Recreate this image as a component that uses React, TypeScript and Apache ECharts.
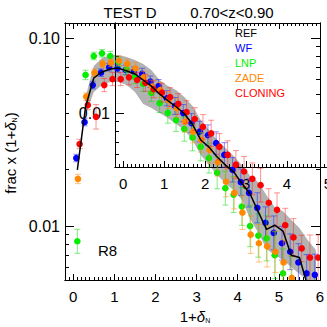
import React, { useEffect, useRef } from "react";
import * as echarts from "echarts";

// ---------- data ----------
const binCenters = [0.1, 0.3, 0.5, 0.7, 0.9, 1.1, 1.3, 1.5, 1.7, 1.9, 2.1, 2.3, 2.5, 2.7, 2.9, 3.1, 3.3, 3.5, 3.7, 3.9, 4.1, 4.3, 4.5, 4.7, 4.9, 5.1, 5.3, 5.5, 5.7, 5.9];

const refValues = [0.0199, 0.043, 0.0613, 0.066, 0.0684, 0.0692, 0.0668, 0.0644, 0.0598, 0.0555, 0.0504, 0.0465, 0.0431, 0.0397, 0.0347, 0.0287, 0.0263, 0.0233, 0.0211, 0.0194, 0.0169, 0.0148, 0.0119, 0.0096, 0.0101, 0.0094, 0.007, 0.0068, 0.0048, null];

const bandX = [0.3, 0.5, 0.7, 0.9, 1.1, 1.3, 1.5, 1.7, 1.9, 2.1, 2.3, 2.5, 2.7, 2.9, 3.1, 3.3, 3.5, 3.7, 3.9, 4.1, 4.3, 4.5, 4.7, 4.9, 5.1, 5.3, 5.5, 5.7, 5.9];
const bandLower = [0.0389, 0.0516, 0.0562, 0.0583, 0.0583, 0.0562, 0.0516, 0.0446, 0.0425, 0.0399, 0.0375, 0.0349, 0.0324, 0.0287, 0.0239, 0.0211, 0.0187, 0.0169, 0.0155, 0.0138, 0.0109, 0.0092, 0.00755, 0.00701, 0.00659, 0.00605, 0.00556, 0.0045, 0.0042];
const bandUpper = [0.0485, 0.071, 0.0783, 0.0812, 0.0812, 0.0793, 0.0764, 0.0728, 0.0676, 0.0598, 0.0556, 0.0529, 0.0485, 0.0435, 0.0366, 0.0324, 0.0287, 0.026, 0.0236, 0.0211, 0.0185, 0.0171, 0.0146, 0.0126, 0.012, 0.0108, 0.00975, 0.00843, 0.00745];

const wfValues = [0.023, 0.0357, 0.0562, 0.0654, 0.0699, 0.069, 0.0676, 0.0662, 0.0644, 0.0586, 0.0555, 0.0478, 0.0435, 0.0399, 0.0353, 0.0318, 0.0304, 0.0276, 0.0239, 0.0199, 0.0171, 0.015, 0.0125, 0.0104, 0.0092, 0.0081, 0.0073, 0.0064, 0.0056, 0.0055];
const wfErrDex = [0.02, 0.02, 0.02, 0.02, 0.02, 0.02, 0.025, 0.025, 0.03, 0.03, 0.035, 0.04, 0.045, 0.045, 0.05, 0.055, 0.055, 0.06, 0.065, 0.065, 0.07, 0.075, 0.08, 0.085, 0.09, 0.09, 0.095, 0.1, 0.1, 0.11];

const lnpValues = [0.0083, 0.0636, 0.0802, 0.0829, 0.0802, 0.0748, 0.068, 0.062, 0.057, 0.051, 0.045, 0.04, 0.0366, 0.0328, 0.0295, 0.0264, 0.023, 0.0192, 0.0159, 0.0147, 0.0127, 0.01, 0.0089, 0.0086, 0.007, 0.0056, 0.005, null, null, null];
const lnpErrDex = [0.064, 0.025, 0.02, 0.02, 0.025, 0.025, 0.03, 0.035, 0.04, 0.045, 0.05, 0.055, 0.06, 0.065, 0.07, 0.075, 0.08, 0.085, 0.09, 0.095, 0.1, 0.11, 0.115, 0.12, 0.125, 0.13, 0.14, 0, 0, 0];

const zadeValues = [0.0178, 0.0488, 0.0654, 0.0728, 0.0739, 0.0757, 0.0728, 0.069, 0.062, 0.0551, 0.0529, 0.0468, 0.0424, 0.0359, 0.0318, 0.0287, 0.0254, 0.0219, 0.0172, 0.015, 0.0118, 0.009, 0.0081, 0.0078, 0.0073, 0.0064, 0.0053, null, null, null];
const zadeErrDex = [0.025, 0.02, 0.02, 0.02, 0.02, 0.025, 0.025, 0.03, 0.03, 0.035, 0.04, 0.045, 0.05, 0.055, 0.06, 0.065, 0.07, 0.075, 0.08, 0.085, 0.09, 0.1, 0.1, 0.11, 0.11, 0.12, 0.12, 0, 0, 0];

const cloningValues = [0.0273, 0.044, 0.0381, 0.0562, 0.0605, 0.0605, 0.0618, 0.0598, 0.0578, 0.0534, 0.0512, 0.0485, 0.0446, 0.0404, 0.0371, 0.0337, 0.0311, 0.0264, 0.0239, 0.0212, 0.0195, 0.0178, 0.0165, 0.0133, 0.0122, 0.0101, 0.0087, 0.0076, 0.0068, 0.0068];
const cloningErrDex = [0.025, 0.025, 0.065, 0.035, 0.035, 0.035, 0.04, 0.04, 0.045, 0.045, 0.05, 0.05, 0.055, 0.06, 0.06, 0.065, 0.07, 0.07, 0.075, 0.075, 0.08, 0.085, 0.09, 0.075, 0.09, 0.09, 0.1, 0.07, 0.12, 0.12];

const xTickLabels = [0, 1, 2, 3, 4, 5, 6];
const insetXTickLabels = [0, 1, 2, 3, 4, 5];
const yMajorTicks = [0.01, 0.1];
const yMinorTicks = [0.006, 0.007, 0.008, 0.009, 0.02, 0.03, 0.04, 0.05, 0.06, 0.07, 0.08, 0.09];
const insetYMajorTicks = [0.01];
const insetYMinorTicks = [0.006, 0.007, 0.008, 0.009, 0.02, 0.03];
const legendNames = ["REF", "WF", "LNP", "ZADE", "CLONING"];

// ---------- layout / style ----------
const X_MIN = -0.2;
const X_MAX = 6;
const INSET_X_MAX = 5;
const Y_MIN = 0.005164;
const Y_MAX = 0.1202;
const INSET_Y_MAX = 0.03012;
const FONT = "'Liberation Sans', Arial, Helvetica, sans-serif";

const minorXTicks: number[] = [];
for (let k = -1; k <= 59; k++) if (k % 10 !== 0) minorXTicks.push(k / 10);

const legendColors = ["#000000", "#0000ff", "#00ee00", "#ff8800", "#ff0000"];

function xAx(gridIndex: number, position: string, max: number, ticks: number[], len: number, labels: number[] | null, z = 0) {
  return {
    type: "value", gridIndex, position, min: X_MIN, max, z,
    axisLine: { show: true, onZero: false, lineStyle: { color: "#000", width: 1 } },
    axisTick: { show: true, inside: true, length: len, customValues: ticks, lineStyle: { color: "#000", width: 1 } },
    axisLabel: labels
      ? { show: true, customValues: labels, fontSize: 15, color: "#000", margin: 9, fontFamily: FONT }
      : { show: false },
    splitLine: { show: false },
    minorTick: { show: false },
  };
}

function yAx(gridIndex: number, position: string, max: number, ticks: number[], len: number, labels: number[] | null, z = 0) {
  return {
    type: "log", logBase: 10, gridIndex, position, min: Y_MIN, max, z,
    axisLine: { show: true, onZero: false, lineStyle: { color: "#000", width: 1 } },
    axisTick: { show: true, inside: true, length: len, customValues: ticks, lineStyle: { color: "#000", width: 1 } },
    axisLabel: labels
      ? { show: true, customValues: labels, fontSize: 16, color: "#000", margin: 5, fontFamily: FONT, formatter: (v: number) => Number(v).toFixed(2) }
      : { show: false },
    splitLine: { show: false },
    minorTick: { show: false },
  };
}

function errSeries(name: string, color: string, barColor: string, offset: number, values: (number | null)[], errs: number[]) {
  const data: number[][] = [];
  binCenters.forEach((b, i) => {
    const v = values[i];
    if (v == null) return;
    data.push([b + offset, v, v * Math.pow(10, -errs[i]), v * Math.pow(10, errs[i])]);
  });
  return {
    type: "custom", name, xAxisIndex: 0, yAxisIndex: 0, z: 3, clip: true, data,
    encode: { x: 0, y: [1, 2, 3] },
    renderItem: (params: any, api: any) => {
      const x = api.value(0), v = api.value(1);
      let lo = api.value(2);
      let hi = api.value(3);
      const loClamped = lo < Y_MIN;
      const hiClamped = hi > Y_MAX;
      if (loClamped) lo = Y_MIN;
      if (hiClamped) hi = Y_MAX;
      const p = api.coord([x, v]);
      const pl = api.coord([x, lo]);
      const ph = api.coord([x, hi]);
      const cw = 3;
      const children: any[] = [
        { type: "line", shape: { x1: p[0], y1: pl[1], x2: p[0], y2: ph[1] }, style: { stroke: barColor, lineWidth: 1 } },
      ];
      if (!loClamped) children.push({ type: "line", shape: { x1: p[0] - cw, y1: pl[1], x2: p[0] + cw, y2: pl[1] }, style: { stroke: barColor, lineWidth: 1 } });
      if (!hiClamped) children.push({ type: "line", shape: { x1: p[0] - cw, y1: ph[1], x2: p[0] + cw, y2: ph[1] }, style: { stroke: barColor, lineWidth: 1 } });
      if (v >= Y_MIN) children.push({ type: "circle", shape: { cx: p[0], cy: p[1], r: 3.3 }, style: { fill: color } });
      return { type: "group", children };
    },
  };
}

export default function App() {
  const ref = useRef<HTMLDivElement>(null);
  useEffect(() => {
    if (!ref.current) return;
    const chart = echarts.init(ref.current, undefined, { renderer: "svg" });

    const bandData = bandX.map((x, i) => [x, bandLower[i], bandUpper[i]]);
    const refData = binCenters.map((x, i) => [x, refValues[i]]).filter((d) => d[1] != null);

    const legendTexts = legendNames.map((n, i) => ({
      type: "text", left: 235, top: 27 + i * 15, z: 10,
      style: { text: n, fill: legendColors[i], font: `11px ${FONT}` },
    }));

    const option: any = {
      animation: false,
      backgroundColor: "#ffffff",
      grid: [
        { left: 65, top: 23, width: 255, height: 257, containLabel: false, outerBoundsMode: "none", show: false },
        { left: 115, top: 23, width: 213, height: 144, containLabel: false, outerBoundsMode: "none", show: false },
      ],
      xAxis: [
        xAx(0, "bottom", X_MAX, xTickLabels, 6, xTickLabels),
        xAx(0, "bottom", X_MAX, minorXTicks, 3, null),
        xAx(0, "top", X_MAX, xTickLabels, 6, null),
        xAx(0, "top", X_MAX, minorXTicks, 3, null),
        xAx(1, "bottom", INSET_X_MAX, insetXTickLabels, 6, insetXTickLabels, 2),
        xAx(1, "bottom", INSET_X_MAX, minorXTicks.filter((t) => t <= INSET_X_MAX), 3, null, 2),
      ],
      yAxis: [
        yAx(0, "left", Y_MAX, yMajorTicks, 9, yMajorTicks),
        yAx(0, "left", Y_MAX, yMinorTicks, 4, null),
        yAx(0, "right", Y_MAX, yMajorTicks, 9, null),
        yAx(0, "right", Y_MAX, yMinorTicks, 4, null),
        yAx(1, "left", INSET_Y_MAX, insetYMajorTicks, 9, insetYMajorTicks, 2),
        yAx(1, "left", INSET_Y_MAX, insetYMinorTicks, 4, null, 2),
      ],
      series: [
        {
          type: "custom", name: "band", xAxisIndex: 0, yAxisIndex: 0, z: 1, clip: true, data: bandData,
          encode: { x: 0, y: [1, 2] },
          renderItem: (params: any, api: any) => {
            if (params.dataIndex !== 0) return null;
            const up = bandData.map((d) => api.coord([d[0], Math.min(Y_MAX, d[2])]));
            const lo = bandData.map((d) => api.coord([d[0], Math.max(Y_MIN, d[1])])).reverse();
            return { type: "polygon", shape: { points: up.concat(lo) }, style: { fill: "#b2b2b2" } };
          },
        },
        errSeries("WF", "#0000ff", "rgba(40,40,255,0.55)", -0.025, wfValues, wfErrDex),
        errSeries("LNP", "#00ee00", "rgba(0,220,0,0.5)", 0, lnpValues, lnpErrDex),
        errSeries("ZADE", "#ff8800", "rgba(255,140,0,0.5)", 0.015, zadeValues, zadeErrDex),
        errSeries("CLONING", "#ff0000", "rgba(255,40,40,0.5)", 0.055, cloningValues, cloningErrDex),
        {
          type: "line", name: "REF", xAxisIndex: 0, yAxisIndex: 0, z: 4, clip: true, data: refData,
          symbol: "none", lineStyle: { color: "#000", width: 1.5 }, itemStyle: { color: "#000" },
        },
      ],
      graphic: [
        { type: "text", x: 130, y: 12, z: 10, style: { text: "TEST D", fill: "#000", font: `15px ${FONT}`, align: "center", verticalAlign: "middle" } },
        { type: "text", x: 232, y: 12, z: 10, style: { text: "0.70<z<0.90", fill: "#000", font: `15px ${FONT}`, align: "center", verticalAlign: "middle" } },
        ...legendTexts,
        { type: "text", x: 98, y: 250, z: 10, style: { text: "R8", fill: "#000", font: `15px ${FONT}`, align: "left", verticalAlign: "middle" } },
        {
          type: "text", x: 195, y: 316, z: 10,
          style: {
            text: "1+{d|δ}{s|N}", fill: "#000", font: `15px ${FONT}`, align: "center", verticalAlign: "middle",
            rich: {
              d: { fontSize: 15, fontStyle: "italic", fontFamily: FONT, fill: "#000" },
              s: { fontSize: 7, fontFamily: FONT, fill: "#000", verticalAlign: "bottom", padding: [6, 0, 0, 0] },
            },
          },
        },
        {
          type: "text", x: 10, y: 153, z: 10, rotation: Math.PI / 2,
          style: {
            text: "frac x (1+{d|δ}{s|N})", fill: "#000", font: `15px ${FONT}`, align: "center", verticalAlign: "middle",
            rich: {
              d: { fontSize: 15, fontStyle: "italic", fontFamily: FONT, fill: "#000" },
              s: { fontSize: 7, fontFamily: FONT, fill: "#000", verticalAlign: "bottom", padding: [6, 0, 0, 0] },
            },
          },
        },
      ],
    };
    chart.setOption(option);
    return () => chart.dispose();
  }, []);
  return <div ref={ref} style={{ position: "fixed", left: 0, top: 0, width: 327, height: 327, background: "#fff" }} />;
}
